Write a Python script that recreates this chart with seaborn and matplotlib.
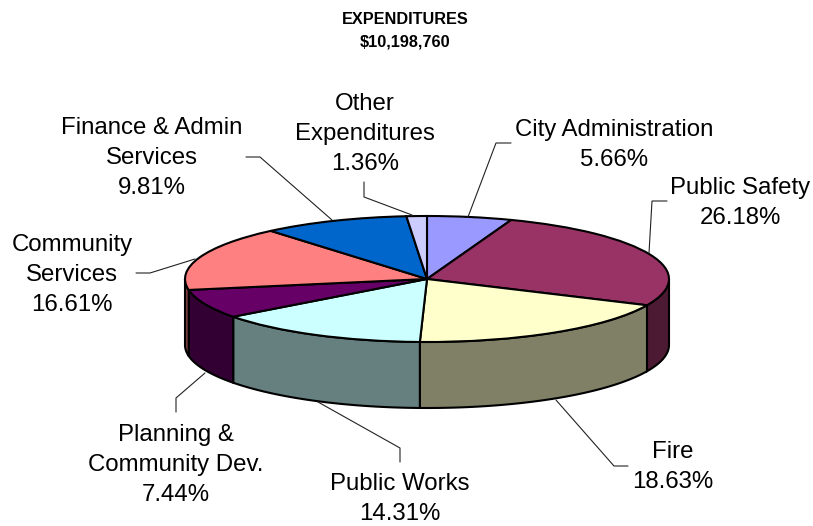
import numpy as np
import matplotlib
matplotlib.use("Agg")
import matplotlib.pyplot as plt
import seaborn as sns

sns.set_theme(style="white")
plt.rcParams['font.family'] = ['Liberation Sans', 'DejaVu Sans']

title = "EXPENDITURES\n$10,198,760"
names = ["City Administration", "Public Safety", "Fire", "Public Works",
         "Planning &\nCommunity Dev.", "Community\nServices",
         "Finance & Admin\nServices", "Other\nExpenditures"]
pct = [5.66, 26.18, 18.63, 14.31, 7.44, 16.61, 9.81, 1.36]
top_colors = ["#9999FF", "#993366", "#FFFFCC", "#CCFFFF",
              "#660066", "#FF8080", "#0066CC", "#CCCCFF"]
side_colors = ["#4D4D80", "#4D1A33", "#808066", "#668080",
               "#330033", "#804040", "#003366", "#666680"]

# layout, in pixels of the 813x526 picture
W, H = 813, 526
cx, cy, rx, ry, depth = 427, 279, 242, 63, 66
label_pos = [(614, 145), (740, 203), (673, 467), (400, 499),
             (176, 465), (72, 275), (152, 158), (365, 134)]
leaders = [[(468, 217), (496, 143), (511, 143)],
           [(649, 253), (652, 201), (667, 201)],
           [(556, 400), (614, 466), (628, 466)],
           [(318, 402), (400, 448), (400, 462)],
           [(205, 373), (176, 398), (176, 412)],
           [(195, 259), (150, 273), (136, 273)],
           [(332, 220), (260, 157), (246, 157)],
           [(412, 215), (364, 197), (364, 182)]]

fig = plt.figure(figsize=(W / 100, H / 100), dpi=100)

# pie axes: one data unit is rx pixels across and ry pixels down, so the
# circle comes out squashed into the tilted disc
ax = fig.add_axes([0, 0, 1, 1])
ax.pie(pct, colors=top_colors, startangle=90, counterclock=False, radius=1,
       wedgeprops=dict(edgecolor="black", linewidth=1.5, zorder=3))
ax.set_aspect("auto")
ax.set_xlim(-cx / rx, (W - cx) / rx)
ax.set_ylim((cy - H) / ry, cy / ry)

# rim of the disc, only the front half (90 to 270 degrees clockwise) shows
drop = depth / ry
ends = np.cumsum(pct) / np.sum(pct) * 360
starts = ends - np.array(pct) / np.sum(pct) * 360
for a, b, col in zip(starts, ends, side_colors):
    lo, hi = max(a, 90), min(b, 270)
    if hi <= lo:
        continue
    t = np.radians(np.linspace(lo, hi, 60))
    x, y = np.sin(t), np.cos(t)
    ax.fill(np.r_[x, x[::-1]], np.r_[y, y[::-1] - drop], facecolor=col,
            edgecolor="black", linewidth=1.5, zorder=2)

# overlay in pixel coordinates for labels and leader lines
over = fig.add_axes([0, 0, 1, 1], facecolor="none")
over.set_xlim(0, W)
over.set_ylim(H, 0)
over.axis("off")

for pts in leaders:
    xs, ys = zip(*pts)
    over.plot(xs, ys, color="#222222", linewidth=0.8, solid_joinstyle="miter")

for name, p, (x, y) in zip(names, pct, label_pos):
    over.text(x, y, f"{name}\n{p:.2f}%", ha="center", va="center",
              fontsize=17.3, color="black", linespacing=1.45)

over.text(405, 31, title, ha="center", va="center", fontsize=11.7,
          fontweight="bold", color="black", linespacing=1.62)

fig.savefig("out.png", dpi=100)
